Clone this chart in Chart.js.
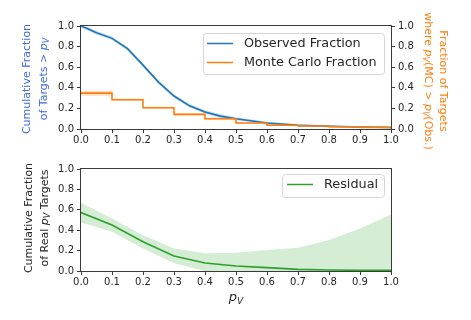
<!DOCTYPE html>
<html><head><meta charset="utf-8">
<script src="https://cdn.jsdelivr.net/npm/chart.js@4/dist/chart.umd.min.js"></script>
<style>
html,body{margin:0;padding:0;background:#fff;width:471px;height:320px;overflow:hidden}
canvas{position:absolute;left:0}
#c1{top:0;width:471px;height:150px}
#c2{top:150px;width:471px;height:170px}
</style></head><body>
<canvas id="c1" width="471" height="150"></canvas>
<canvas id="c2" width="471" height="170"></canvas>
<script>
// ---- data ----
const xTickLabels = ['0.0','0.1','0.2','0.3','0.4','0.5','0.6','0.7','0.8','0.9','1.0'];
const yTickLabels = ['0.0','0.2','0.4','0.6','0.8','1.0'];

const obsX  = [0, 0.02, 0.05, 0.1, 0.15, 0.2, 0.25, 0.3, 0.35, 0.4, 0.45, 0.5, 0.6, 0.7, 0.8, 0.9, 1.0];
const obsY  = [1.0, 0.975, 0.935, 0.88, 0.78, 0.62, 0.455, 0.32, 0.225, 0.165, 0.125, 0.1, 0.058, 0.037, 0.026, 0.019, 0.015];
const obsHi = [1.0, 0.992, 0.952, 0.897, 0.797, 0.637, 0.472, 0.337, 0.242, 0.182, 0.142, 0.114, 0.07, 0.048, 0.036, 0.028, 0.023];
const obsLo = [0.983, 0.958, 0.918, 0.863, 0.763, 0.603, 0.438, 0.303, 0.208, 0.148, 0.108, 0.086, 0.046, 0.026, 0.016, 0.01, 0.007];

const mcEdges = [0, 0.1, 0.2, 0.3, 0.4, 0.5, 0.6, 0.7, 0.8, 0.9, 1.0];
const mcY  = [0.348, 0.284, 0.206, 0.142, 0.1, 0.058, 0.036, 0.029, 0.022, 0.016, 0.016];
const mcHi = [0.372, 0.294, 0.216, 0.152, 0.11, 0.066, 0.044, 0.036, 0.029, 0.022, 0.022];
const mcLo = [0.324, 0.274, 0.196, 0.132, 0.09, 0.05, 0.028, 0.022, 0.015, 0.01, 0.01];

const resX  = [0, 0.1, 0.2, 0.3, 0.4, 0.5, 0.6, 0.7, 0.8, 0.9, 1.0];
const resY  = [0.573, 0.45, 0.287, 0.147, 0.078, 0.049, 0.033, 0.016, 0.01, 0.007, 0.007];
const resHi = [0.668, 0.515, 0.35, 0.22, 0.173, 0.18, 0.205, 0.228, 0.303, 0.417, 0.554];
const resLo = [0.476, 0.385, 0.22, 0.075, 0.0, -0.015, -0.03, -0.05, -0.06, -0.07, -0.08];

const seriesNames = ['Observed Fraction', 'Monte Carlo Fraction', 'Residual'];

// ---- helpers ----
const pts = (xs, ys) => xs.map((x, i) => ({x: x, y: ys[i]}));
const FONT = '"DejaVu Sans", sans-serif';
const INK = '#262626';
const SPINE = '#3a3a3a';

Chart.defaults.font.family = FONT;
Chart.defaults.font.size = 10;
Chart.defaults.color = INK;

function drawRich(ctx, parts, x, y, rot, size, color) {
  ctx.save();
  ctx.translate(x, y);
  ctx.rotate(rot);
  ctx.fillStyle = color;
  ctx.textBaseline = 'alphabetic';
  ctx.textAlign = 'left';
  const fontFor = p => (p.italic ? 'italic ' : '') + (p.sub ? Math.round(size * 0.72) : size) + 'px ' + FONT;
  let w = 0;
  parts.forEach(p => { ctx.font = fontFor(p); p.w = ctx.measureText(p.t).width; w += p.w; });
  let cx = -w / 2;
  parts.forEach(p => { ctx.font = fontFor(p); ctx.fillText(p.t, cx, p.sub ? size * 0.22 : 0); cx += p.w; });
  ctx.restore();
}

function roundRect(ctx, x, y, w, h, r) {
  ctx.beginPath();
  ctx.moveTo(x + r, y);
  ctx.lineTo(x + w - r, y); ctx.quadraticCurveTo(x + w, y, x + w, y + r);
  ctx.lineTo(x + w, y + h - r); ctx.quadraticCurveTo(x + w, y + h, x + w - r, y + h);
  ctx.lineTo(x + r, y + h); ctx.quadraticCurveTo(x, y + h, x, y + h - r);
  ctx.lineTo(x, y + r); ctx.quadraticCurveTo(x, y, x + r, y);
  ctx.closePath();
}

const deco = {
  id: 'deco',
  afterDraw(chart, args, o) {
    const ctx = chart.ctx, a = chart.chartArea;
    ctx.save();
    // spines
    ctx.strokeStyle = SPINE; ctx.lineWidth = 1;
    ctx.strokeRect(Math.round(a.left) - 0.5, Math.round(a.top) - 0.5, Math.round(a.right - a.left) + 1, Math.round(a.bottom - a.top) + 1);
    // legend
    const L = o.legend;
    roundRect(ctx, L.x + 0.5, L.y + 0.5, L.w, L.h, 3);
    ctx.fillStyle = 'rgba(255,255,255,0.85)'; ctx.fill();
    ctx.strokeStyle = '#d6d6d6'; ctx.lineWidth = 1; ctx.stroke();
    const items = chart.data.datasets.filter(d => d.label);
    items.forEach((d, i) => {
      const yy = L.rowY[i];
      ctx.strokeStyle = d.borderColor; ctx.lineWidth = 1.5;
      ctx.beginPath(); ctx.moveTo(L.sx1, yy); ctx.lineTo(L.sx2, yy); ctx.stroke();
      ctx.fillStyle = INK; ctx.font = '12.8px ' + FONT;
      ctx.textBaseline = 'middle'; ctx.textAlign = 'left';
      ctx.fillText(d.label, L.tx, yy + 0.5);
    });
    // axis labels
    (o.labels || []).forEach(lb => drawRich(ctx, lb.parts, lb.x, lb.y, lb.rot, lb.size, lb.color));
    ctx.restore();
  }
};

function xScale(h) {
  return {
    type: 'linear', min: 0, max: 1,
    afterFit: s => { s.height = h; },
    border: {display: false},
    grid: {drawOnChartArea: false, drawTicks: true, tickLength: 4, color: SPINE, tickWidth: 1},
    ticks: {stepSize: 0.1, autoSkip: false, maxRotation: 0, padding: 1, color: INK,
      callback: v => xTickLabels[Math.round(v * 10)]}
  };
}
function yScale(pos, w) {
  return {
    type: 'linear', position: pos, min: 0, max: 1,
    afterFit: s => { s.width = w; },
    border: {display: false},
    grid: {drawOnChartArea: false, drawTicks: true, tickLength: 4, color: SPINE, tickWidth: 1},
    ticks: {stepSize: 0.2, autoSkip: false, padding: 3, color: INK,
      callback: v => yTickLabels[Math.round(v * 5)]}
  };
}

const pV = [{t: 'p', italic: true}, {t: 'V', italic: true, sub: true}];

// ---- top chart ----
new Chart(document.getElementById('c1'), {
  type: 'line',
  data: {
    datasets: [
      {data: pts(obsX, obsHi), yAxisID: 'y', borderWidth: 0, pointRadius: 0, fill: '+1', backgroundColor: 'rgba(31,119,180,0.25)', order: 5},
      {data: pts(obsX, obsLo), yAxisID: 'y', borderWidth: 0, pointRadius: 0, fill: false, order: 5},
      {label: seriesNames[0], data: pts(obsX, obsY), yAxisID: 'y', borderColor: '#1f77b4', borderWidth: 1.6, pointRadius: 0, tension: 0, fill: false, order: 4},
      {data: pts(mcEdges, mcHi), yAxisID: 'y2', stepped: 'before', borderWidth: 0, pointRadius: 0, fill: '+1', backgroundColor: 'rgba(255,127,14,0.25)', order: 3},
      {data: pts(mcEdges, mcLo), yAxisID: 'y2', stepped: 'before', borderWidth: 0, pointRadius: 0, fill: false, order: 3},
      {label: seriesNames[1], data: pts(mcEdges, mcY), yAxisID: 'y2', stepped: 'before', borderColor: '#ff7f0e', borderWidth: 1.6, pointRadius: 0, fill: false, order: 2}
    ]
  },
  options: {
    responsive: false, animation: false, devicePixelRatio: 1, events: [],
    layout: {padding: {top: 26, left: 0, right: 0, bottom: 0}},
    scales: {x: xScale(21), y: yScale('left', 81), y2: yScale('right', 80)},
    plugins: {
      legend: {display: false}, tooltip: {enabled: false},
      deco: {
        legend: {x: 203, y: 33, w: 181, h: 41, rowY: [43.5, 62.5], sx1: 207, sx2: 233, tx: 244},
        labels: [
          {parts: [{t: 'Cumulative Fraction'}], x: 30, y: 79, rot: -Math.PI / 2, size: 11, color: '#4169e1'},
          {parts: [{t: 'of Targets > '}].concat(pV), x: 47, y: 79, rot: -Math.PI / 2, size: 11, color: '#4169e1'},
          {parts: [{t: 'Fraction of Targets'}], x: 439.5, y: 81, rot: Math.PI / 2, size: 11, color: '#ff7f0e'},
          {parts: [{t: 'where '}, {t: 'p', italic: true}, {t: 'V', italic: true, sub: true}, {t: '(MC) > '}, {t: 'p', italic: true}, {t: 'V', italic: true, sub: true}, {t: '(Obs.)'}], x: 425, y: 81, rot: Math.PI / 2, size: 11, color: '#ff7f0e'}
        ]
      }
    }
  },
  plugins: [deco]
});

// ---- bottom chart ----
new Chart(document.getElementById('c2'), {
  type: 'line',
  data: {
    datasets: [
      {data: pts(resX, resHi), borderWidth: 0, pointRadius: 0, fill: '+1', backgroundColor: 'rgba(44,160,44,0.2)', order: 5},
      {data: pts(resX, resLo), borderWidth: 0, pointRadius: 0, fill: false, order: 5},
      {label: seriesNames[2], data: pts(resX, resY), borderColor: '#2ca02c', borderWidth: 1.6, pointRadius: 0, tension: 0, fill: false, order: 2}
    ]
  },
  options: {
    responsive: false, animation: false, devicePixelRatio: 1, events: [],
    layout: {padding: {top: 19, left: 0, right: 80, bottom: 0}},
    scales: {x: xScale(49), y: yScale('left', 81)},
    plugins: {
      legend: {display: false}, tooltip: {enabled: false},
      deco: {
        legend: {x: 282, y: 24, w: 102, h: 23, rowY: [34.5], sx1: 287, sx2: 313, tx: 324},
        labels: [
          {parts: [{t: 'Cumulative Fraction'}], x: 31.5, y: 68, rot: -Math.PI / 2, size: 11, color: INK},
          {parts: [{t: 'of Real '}].concat(pV).concat([{t: ' Targets'}]), x: 48, y: 68, rot: -Math.PI / 2, size: 11, color: INK},
          {parts: pV, x: 236, y: 151, rot: 0, size: 13, color: INK}
        ]
      }
    }
  },
  plugins: [deco]
});
</script></body></html>
